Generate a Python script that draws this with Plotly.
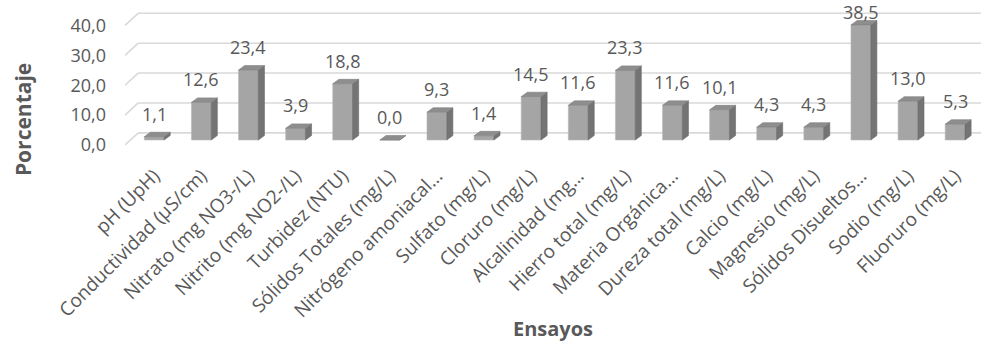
import plotly.graph_objects as go

categories = [
    "pH (UpH)", "Conductividad (µS/cm)", "Nitrato (mg NO3-/L)", "Nitrito (mg NO2-/L)",
    "Turbidez (NTU)", "Sólidos Totales (mg/L)", "Nitrógeno amoniacal…", "Sulfato (mg/L)",
    "Cloruro (mg/L)", "Alcalinidad (mg…", "Hierro total (mg/L)", "Materia Orgánica…",
    "Dureza total (mg/L)", "Calcio (mg/L)", "Magnesio (mg/L)", "Sólidos Disueltos…",
    "Sodio (mg/L)", "Fluoruro (mg/L)",
]
values = [1.1, 12.6, 23.4, 3.9, 18.8, 0.0, 9.3, 1.4, 14.5, 11.6, 23.3, 11.6, 10.1, 4.3, 4.3, 38.5, 13.0, 5.3]
y_ticks = [0, 10, 20, 30, 40]
x_title = "Ensayos"
y_title = "Porcentaje"

# style / geometry constants
FONT = "Open Sans"
TXT = "#595959"
FRONT = "#a5a5a5"
SIDE = "#747474"
TOP = "#8e8e8e"
GRID = "#d9d9d9"
BAR_W = 0.42
DX = 0.13   # depth offset (x units)
DY = 1.5    # depth offset (y units)
X_RANGE = [-0.62, 17.55]
Y_RANGE = [-2.0, 43.5]
W, H = 982, 342
ML, MR, MT, MB = 125, 1, 9.5, 196
PLOT_W = W - ML - MR
PLOT_H = H - MT - MB

px_per_unit = PLOT_H / (Y_RANGE[1] - Y_RANGE[0])

xs = list(range(len(categories)))

fig = go.Figure()

# front faces
fig.add_trace(go.Bar(
    x=xs, y=values, width=BAR_W, marker=dict(color=FRONT, line=dict(width=0.6, color="#b8b8b8")),
    hoverinfo="skip", showlegend=False,
))

# side faces
sx, sy = [], []
for i, v in zip(xs, values):
    r = i + BAR_W / 2
    sx += [r, r + DX, r + DX, r, r, None]
    sy += [0, DY, v + DY, v, 0, None]
fig.add_trace(go.Scatter(x=sx, y=sy, mode="lines", fill="toself", fillcolor=SIDE,
                         line=dict(width=0.6, color="#6a6a6a"), hoverinfo="skip", showlegend=False))

# top faces
tx, ty = [], []
for i, v in zip(xs, values):
    l, r = i - BAR_W / 2, i + BAR_W / 2
    tx += [l, r, r + DX, l + DX, l, None]
    ty += [v, v, v + DY, v + DY, v, None]
fig.add_trace(go.Scatter(x=tx, y=ty, mode="lines", fill="toself", fillcolor=TOP,
                         line=dict(width=0.6, color="#7e7e7e"), hoverinfo="skip", showlegend=False))

# gridlines (3D-style: front-left diagonal + back plane line)
GB = 2.4   # back plane lift (units)
GF = -1.67 # front lift
GDX = 0.28
shapes = []
for t in y_ticks:
    shapes.append(dict(type="line", xref="x", yref="y", x0=X_RANGE[0], y0=t + GF,
                       x1=X_RANGE[0] + GDX, y1=t + GB, line=dict(color=GRID, width=1.6), layer="below"))
    shapes.append(dict(type="line", xref="x", yref="y", x0=X_RANGE[0] + GDX, y0=t + GB,
                       x1=X_RANGE[1], y1=t + GB, line=dict(color=GRID, width=1.6), layer="below"))

# value labels
LABEL_SHIFT = 23
annotations = []
for i, v in zip(xs, values):
    room = (Y_RANGE[1] - v) * px_per_unit + MT - 12
    annotations.append(dict(x=i, y=v, xref="x", yref="y", text=f"{v:.1f}".replace(".", ","),
                            showarrow=False, yanchor="middle", yshift=min(LABEL_SHIFT, room),
                            font=dict(family=FONT, size=18, color=TXT)))

# y-axis title (placed as annotation to match vertical position)
annotations.append(dict(
    text=f"<b>{y_title}</b>", textangle=-90, showarrow=False,
    xref="paper", yref="paper", x=(23 - ML) / PLOT_W, y=(H - MB - 120) / PLOT_H,
    xanchor="center", yanchor="middle", font=dict(family=FONT, size=21, color=TXT),
))

fig.update_layout(
    width=W, height=H,
    margin=dict(l=ML, r=MR, t=MT, b=MB, autoexpand=False),
    plot_bgcolor="white", paper_bgcolor="white",
    separators=",.",
    shapes=shapes, annotations=annotations,
    bargap=0.5,
    font=dict(family=FONT, color=TXT),
)
fig.update_xaxes(
    range=X_RANGE, tickmode="array", tickvals=xs, ticktext=categories, tickangle=-45,
    showgrid=False, zeroline=False, showline=False, ticks="",
    tickfont=dict(family=FONT, size=19, color=TXT), ticklabelstandoff=14,
    title=dict(text=f"<b>{x_title}</b>", font=dict(family=FONT, size=20, color=TXT), standoff=4),
    automargin=False,
)
fig.update_yaxes(
    range=Y_RANGE, tickmode="array", tickvals=y_ticks, tickformat=".1f",
    showgrid=False, zeroline=False, showline=False, ticks="",
    tickfont=dict(family=FONT, size=18, color=TXT), ticklabelstandoff=18, ticklabelshift=5,
    automargin=False,
)

fig.write_html("out.html")
